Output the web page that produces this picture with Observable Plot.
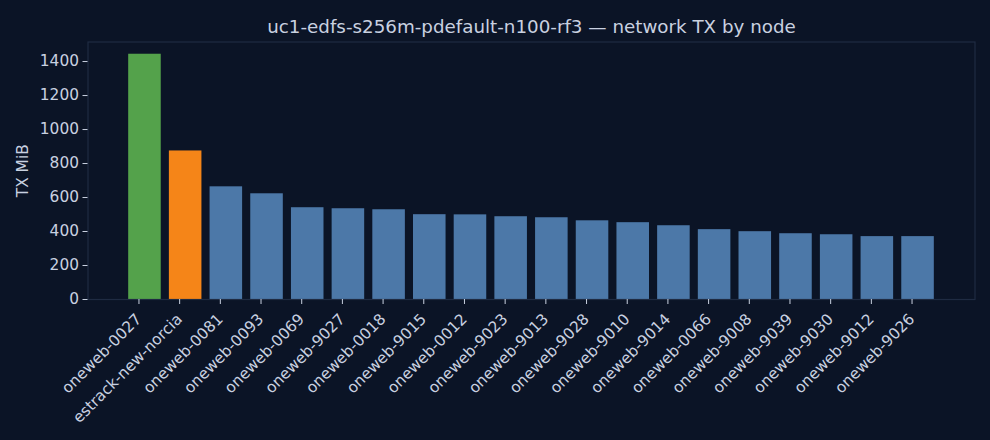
<!DOCTYPE html>
<html>
<head>
<meta charset="utf-8">
<script src="https://cdn.jsdelivr.net/npm/d3@7"></script>
<script src="https://cdn.jsdelivr.net/npm/@observablehq/plot@0.6"></script>
<style>
  html, body { margin: 0; padding: 0; background: #0b1426; }
  #chart svg { display: block; }
</style>
</head>
<body>
<div id="chart"></div>
<script>
const nodes = ["oneweb-0027","estrack-new-norcia","oneweb-0081","oneweb-0093","oneweb-0069","oneweb-9027","oneweb-0018","oneweb-9015","oneweb-0012","oneweb-9023","oneweb-9013","oneweb-9028","oneweb-9010","oneweb-9014","oneweb-0066","oneweb-9008","oneweb-9039","oneweb-9030","oneweb-9012","oneweb-9026"];
const txMiB = [1443, 874, 663, 622, 540, 534, 528, 499, 498, 487, 481, 463, 452, 434, 411, 399, 387, 381, 370, 370];
const barColors = ["#54a24b", "#f58518", "#4c78a8", "#4c78a8", "#4c78a8", "#4c78a8", "#4c78a8", "#4c78a8", "#4c78a8", "#4c78a8", "#4c78a8", "#4c78a8", "#4c78a8", "#4c78a8", "#4c78a8", "#4c78a8", "#4c78a8", "#4c78a8", "#4c78a8", "#4c78a8"];
const yTicks = [0, 200, 400, 600, 800, 1000, 1200, 1400];
const title = "uc1-edfs-s256m-pdefault-n100-rf3 — network TX by node";

const data = nodes.map((n, i) => ({node: n, tx: txMiB[i], color: barColors[i]}));

const chart = Plot.plot({
  width: 990,
  height: 440,
  marginTop: 41.5,
  marginBottom: 141,
  marginLeft: 87.5,
  marginRight: 15.5,
  style: {background: "#0b1426", color: "#c9d1e0", fontFamily: "DejaVu Sans", fontSize: "15px"},
  x: {type: "band", domain: nodes, paddingInner: 0.2, paddingOuter: 1, round: false},
  y: {domain: [0, 1515]},
  marks: [
    Plot.barY(data, {x: "node", y: "tx", fill: "color"}),
    Plot.frame({stroke: "#1f2b42", strokeWidth: 1.2}),
    Plot.axisY({ticks: yTicks, tickFormat: d3.format("d"), tickSize: 5, tickPadding: 4, fontSize: 15.4, stroke: "#c9d1e0", label: "TX MiB", labelAnchor: "center", labelArrow: "none", labelOffset: 71}),
    Plot.axisX({tickSize: 5, tickRotate: -45, tickPadding: 12, dx: -6, fontSize: 15.4, stroke: "#c9d1e0", label: null}),
    Plot.text([title], {frameAnchor: "top", dy: -14.5, fontSize: 18.3, fill: "#c9d1e0", lineAnchor: "middle"})
  ]
});
document.getElementById("chart").appendChild(chart);
</script>
</body>
</html>
